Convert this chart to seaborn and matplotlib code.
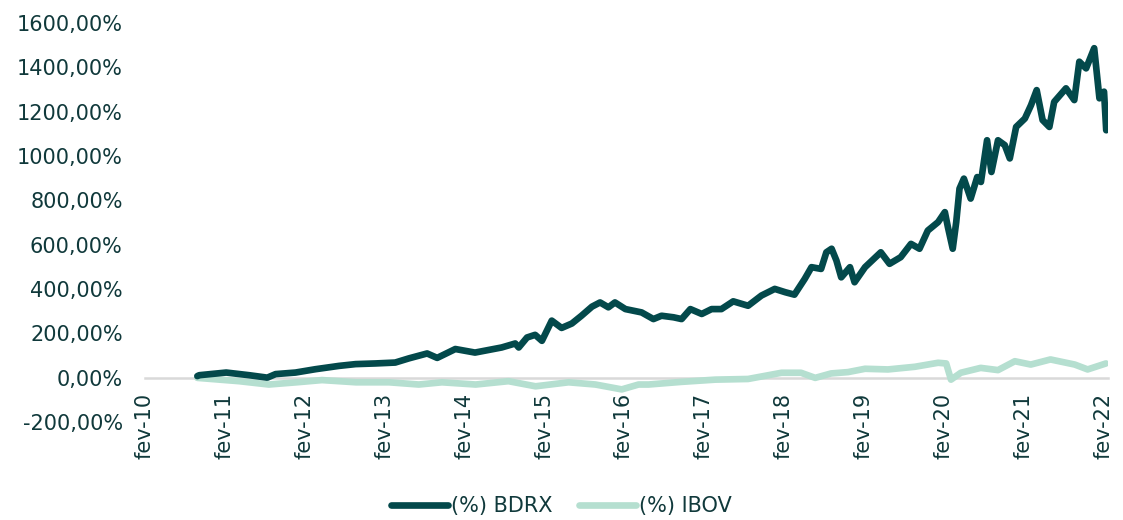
import pandas as pd
import seaborn as sns
import matplotlib
matplotlib.use("Agg")
import matplotlib.pyplot as plt
from matplotlib.ticker import FuncFormatter

# values (cumulative return, %)
bdrx_dates = [
    "2010-09-29", "2010-10-08", "2011-02-08", "2011-05-24", "2011-08-15",
    "2011-09-22", "2011-12-22", "2012-03-22", "2012-07-08", "2012-09-22",
    "2012-12-22", "2013-03-22", "2013-05-24", "2013-08-15", "2013-09-30",
    "2013-12-22", "2014-03-22", "2014-07-22", "2014-09-22", "2014-10-08",
    "2014-11-15", "2014-12-22", "2015-01-22", "2015-03-08", "2015-04-22",
    "2015-06-08", "2015-07-22", "2015-09-08", "2015-10-15", "2015-11-22",
    "2015-12-22", "2016-02-08", "2016-04-22", "2016-06-15", "2016-07-22",
    "2016-09-15", "2016-10-22", "2016-12-01", "2017-01-22", "2017-03-08",
    "2017-04-22", "2017-06-15", "2017-08-22", "2017-10-22", "2017-12-22",
    "2018-02-08", "2018-03-22", "2018-05-08", "2018-06-08", "2018-07-22",
    "2018-08-15", "2018-09-08", "2018-09-30", "2018-10-22", "2018-12-01",
    "2018-12-22", "2019-02-08", "2019-04-21", "2019-05-31", "2019-07-21",
    "2019-09-06", "2019-10-15", "2019-11-22", "2020-01-08", "2020-02-08",
    "2020-02-22", "2020-03-15", "2020-03-31", "2020-04-15", "2020-05-05",
    "2020-06-05", "2020-07-05", "2020-07-22", "2020-08-19", "2020-09-08",
    "2020-10-08", "2020-11-08", "2020-12-01", "2020-12-30", "2021-02-08",
    "2021-03-08", "2021-04-03", "2021-04-30", "2021-05-31", "2021-06-22",
    "2021-08-15", "2021-09-22", "2021-10-15", "2021-11-15", "2021-12-22",
    "2022-01-15", "2022-02-05", "2022-02-15",
]
bdrx_values = [
    8, 12, 24, 12, 1,
    17, 24, 39, 54, 62,
    65, 69, 88, 110, 90,
    130, 114, 137, 155, 137,
    182, 194, 167, 258, 225,
    245, 280, 321, 340, 318,
    340, 310, 295, 265, 280,
    273, 265, 310, 288, 310,
    310, 345, 325, 371, 401,
    386, 375, 446, 499, 491,
    566, 582, 529, 453, 499,
    431, 499, 566, 514, 544,
    604, 582, 664, 702, 747,
    679, 582, 702, 853, 898,
    808, 905, 883, 1071, 928,
    1071, 1049, 989, 1131, 1169,
    1229, 1297, 1162, 1131, 1244,
    1305, 1252, 1425, 1395, 1486,
    1260, 1290, 1116,
]

ibov_dates = [
    "2010-09-29", "2011-04-08", "2011-08-22", "2012-01-08", "2012-04-21",
    "2012-09-24", "2013-02-22", "2013-07-08", "2013-10-22", "2014-03-25",
    "2014-08-22", "2014-12-24", "2015-05-24", "2015-09-24", "2016-01-22",
    "2016-04-08", "2016-05-24", "2016-10-22", "2017-03-25", "2017-08-22",
    "2018-01-22", "2018-04-21", "2018-06-25", "2018-09-06", "2018-11-22",
    "2019-02-08", "2019-05-24", "2019-09-24", "2020-01-08", "2020-02-14",
    "2020-03-07", "2020-04-21", "2020-07-21", "2020-10-08", "2020-12-24",
    "2021-03-07", "2021-06-05", "2021-09-24", "2021-11-22", "2022-02-14",
]
ibov_values = [
    0, -15, -30, -19, -10,
    -20, -20, -30, -20, -30,
    -15, -38, -20, -30, -52,
    -30, -30, -18, -8, -5,
    23, 23, 0, 20, 26,
    41, 38, 50, 68, 65,
    -8, 23, 45, 35, 75,
    60, 83, 60, 38, 65,
]

series_names = ["(%) BDRX", "(%) IBOV"]
tick_dates = [f"{y}-02-01" for y in range(2010, 2023)]
tick_labels = [f"fev-{y % 100:02d}" for y in range(2010, 2023)]

TEXT = "#10393b"
colors = {"(%) BDRX": "#03494b", "(%) IBOV": "#b5dfd0"}

df = pd.concat([
    pd.DataFrame({"date": pd.to_datetime(bdrx_dates), "value": bdrx_values, "serie": series_names[0]}),
    pd.DataFrame({"date": pd.to_datetime(ibov_dates), "value": ibov_values, "serie": series_names[1]}),
], ignore_index=True)

sns.set_style("white")
plt.rcParams["font.family"] = ["DejaVu Sans"]

fig = plt.figure(figsize=(11.23, 5.2), dpi=100)
ax = fig.add_axes([0.129, 0.188, 0.858, 0.768])

sns.lineplot(data=df, x="date", y="value", hue="serie", palette=colors,
             estimator=None, linewidth=4.8, ax=ax, legend=False)
for line in ax.get_lines():
    line.set_solid_capstyle("round")
    line.set_solid_joinstyle("round")
ax.get_lines()[0].set_zorder(3)  # BDRX over IBOV

ax.set_ylim(-200, 1600)
ax.set_yticks(range(-200, 1601, 200))
ax.yaxis.set_major_formatter(FuncFormatter(lambda v, p: f"{v:.2f}%".replace(".", ",")))
ax.set_xlim(pd.Timestamp("2010-02-01"), pd.Timestamp("2022-02-25"))
ax.set_xticks(pd.to_datetime(tick_dates))
ax.set_xticklabels(tick_labels)

for s in ["top", "right", "left"]:
    ax.spines[s].set_visible(False)
ax.spines["bottom"].set_position(("data", 0))
ax.spines["bottom"].set_color("#d9d9d9")
ax.spines["bottom"].set_linewidth(1.8)
ax.spines["bottom"].set_zorder(1)

ax.tick_params(axis="x", direction="out", length=6, width=1.5, color="#d9d9d9",
               pad=5, labelsize=15, labelcolor=TEXT, labelrotation=90)
ax.tick_params(axis="y", length=0, pad=16, labelsize=15, labelcolor=TEXT)
ax.set_xlabel("")
ax.set_ylabel("")
ax.grid(False)

handles = [plt.Line2D([], [], color=colors[n], linewidth=4.8, solid_capstyle="round")
           for n in series_names]
fig.legend(handles, series_names, loc="center", bbox_to_anchor=(0.5, 0.027), ncol=2,
           frameon=False, fontsize=15, labelcolor=TEXT, handlelength=2.7,
           handletextpad=0.15, columnspacing=1.3)

fig.savefig("out.png", dpi=100)
